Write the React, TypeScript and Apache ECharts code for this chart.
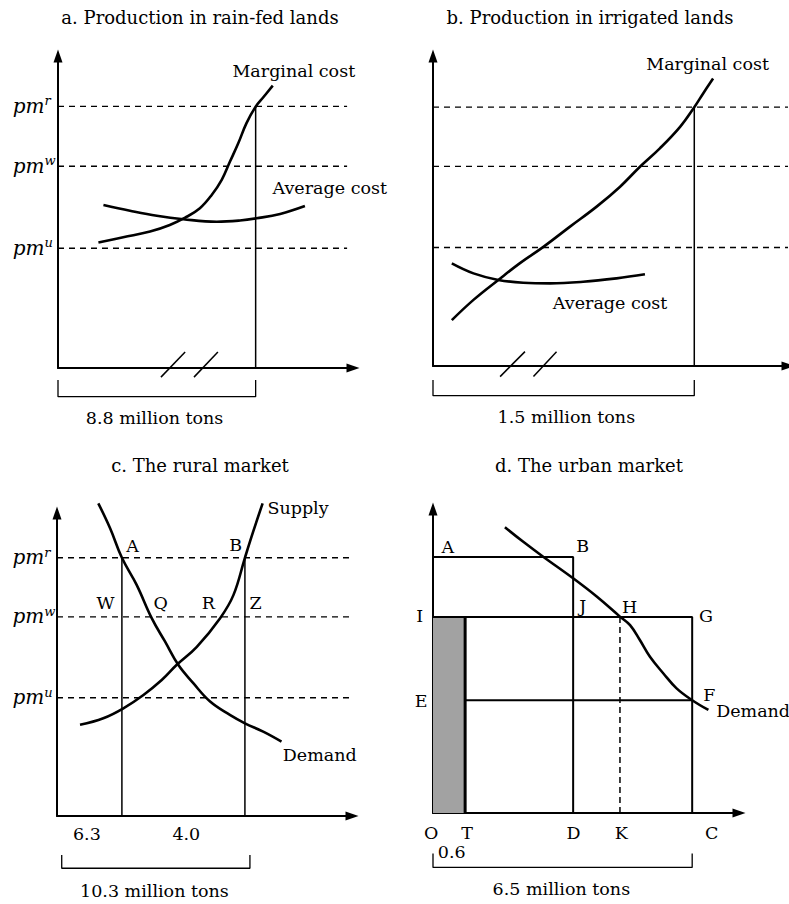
import React, { useEffect, useRef } from "react";
import * as echarts from "echarts";

const SERIF = "'DejaVu Serif', 'Liberation Serif', serif";
const INK = "#000";
const LABEL_SIZE = 17.5;

// ---------- shared price levels (panels a, b, c) ----------
const priceLevels = [83, 64, 38];
const priceSup = ["r", "w", "u"];

// ---------- panel a: production in rain-fed lands ----------
const aMarginalCost: [number, number][] = [
  [13.7, 39.8], [22.1, 41.5], [31.2, 43.3], [37.9, 45.4], [43.1, 47.7], [48.1, 50.7],
  [52.1, 54.9], [55.5, 59.7], [58.3, 65.5], [61.1, 71.3], [63.9, 77.7], [67.0, 82.9],
  [69.6, 85.9], [72.8, 89.6],
];
const aAverageCost: [number, number][] = [
  [15.4, 51.7], [24.4, 49.9], [33.5, 48.3], [42.5, 47.2], [53.8, 46.4], [61.7, 46.8],
  [67.3, 47.5], [75.3, 48.9], [83.7, 51.4],
];
const aQuantity = 67.0;
const aDashEnd = 98;

// ---------- panel b: production in irrigated lands ----------
const bMarginalCost: [number, number][] = [
  [5.3, 14.7], [11.4, 21.2], [18.4, 27.6], [24.5, 33.0], [31.1, 38.2], [38.6, 44.7],
  [46.1, 51.1], [52.7, 57.5], [58.3, 63.9], [63.9, 69.8], [69.6, 76.7], [73.6, 83.0],
  [76.1, 87.4], [78.9, 92.2],
];
const bAverageCost: [number, number][] = [
  [5.3, 32.9], [11.4, 29.7], [18.4, 27.6], [25.4, 26.7], [33.0, 26.5], [42.3, 27.0],
  [51.7, 28.1], [59.7, 29.4],
];
const bQuantity = 73.6;
const bDashEnd = 100;

// ---------- panel c: the rural market ----------
const cDemand: [number, number][] = [
  [14.0, 100.5], [18.0, 92.5], [22.0, 83.0], [27.0, 74.3], [32.1, 63.6], [36.6, 56.1],
  [41.1, 48.6], [46.2, 42.7], [51.9, 36.8], [58.6, 32.5], [63.7, 29.8], [69.9, 27.1],
  [76.1, 23.9],
];
const cSupply: [number, number][] = [
  [7.8, 29.3], [15.7, 31.4], [22.5, 34.6], [29.3, 38.9], [35.5, 43.7], [40.6, 48.6],
  [47.4, 54.4], [55.3, 63.6], [59.8, 71.0], [63.7, 83.0], [66.5, 91.4], [69.7, 100.5],
];
const cQuantities = [22.0, 63.7];
const cDashEnd = 101;
const cTickLabels = ["6.3", "4.0"];

// ---------- panel d: the urban market ----------
const dPrices = { AB: 84.2, IG: 64.5, EF: 37.1 };
const dQuantities = { T: 10.5, D: 45.8, K: 61.1, C: 84.7 };
const dDemand: [number, number][] = [
  [23.5, 94.0], [29.5, 89.2], [36.0, 84.3], [45.8, 77.2], [53.5, 71.2], [61.1, 64.6],
  [64.4, 61.8], [67.6, 56.9], [70.9, 51.4], [75.3, 45.9], [79.6, 41.0], [84.7, 37.1],
  [90.0, 33.9],
];

// ---------- layout ----------
const grids = [
  { left: 58, top: 56, width: 295, height: 312 },
  { left: 433, top: 56, width: 355, height: 310 },
  { left: 57, top: 513, width: 295, height: 303 },
  { left: 433, top: 509, width: 306, height: 304 },
];
const xMax = [100, 100, 100, 100];
const yMax = [99, 99.4, 97.4, 100];

type Txt = { text: string; x: number; y: number; align?: string; size?: number; rich?: any };

function line(idx: number, data: number[][], o: any = {}) {
  return {
    type: "line",
    xAxisIndex: idx,
    yAxisIndex: idx,
    data,
    symbol: "none",
    clip: false,
    silent: true,
    smooth: o.smooth ?? false,
    z: o.z ?? 2,
    lineStyle: { color: INK, width: o.width ?? 1.5, type: o.dash ?? "solid", cap: "butt" },
  };
}

function texts(idx: number, items: Txt[]) {
  return {
    type: "scatter",
    xAxisIndex: idx,
    yAxisIndex: idx,
    symbol: "circle",
    symbolSize: 1,
    itemStyle: { color: "rgba(0,0,0,0)", opacity: 1 },
    clip: false,
    silent: true,
    z: 6,
    data: items.map((it) => ({
      value: [it.x, it.y],
      label: {
        show: true,
        formatter: it.text,
        position: [0, 0],
        align: it.align ?? "center",
        verticalAlign: "middle",
        fontFamily: SERIF,
        fontSize: it.size ?? LABEL_SIZE,
        color: INK,
        opacity: 1,
        ...(it.rich ? { rich: it.rich } : {}),
      },
    })),
  };
}

const pmRich = {
  it: { fontFamily: SERIF, fontStyle: "italic", fontSize: 20, lineHeight: 23, color: INK },
  sup: { fontFamily: SERIF, fontStyle: "italic", fontSize: 13, lineHeight: 13, verticalAlign: "top", color: INK },
};

function priceLines(idx: number, end: number) {
  return priceLevels.map((p) => line(idx, [[0, p], [end, p]], { width: 1.4, dash: [6, 5] }));
}
function priceLabels(idx: number, x: number) {
  return texts(
    idx,
    priceLevels.map((p, i) => ({ text: `{it|pm}{sup|${priceSup[i]}}`, x, y: p, align: "left", rich: pmRich }))
  );
}
function bracket(idx: number, x0: number, x1: number, yb: number, yt: number) {
  return line(idx, [[x0, yt], [x0, yb], [x1, yb], [x1, yt]], { width: 1.3 });
}

export default function App() {
  const ref = useRef<HTMLDivElement>(null);
  useEffect(() => {
    if (!ref.current) return;
    const chart = echarts.init(ref.current, undefined, { renderer: "svg" });

    const axisCommon = {
      type: "value",
      axisTick: { show: false },
      axisLabel: { show: false },
      splitLine: { show: false },
    };
    const axisLine = {
      show: true,
      onZero: false,
      symbol: ["none", "triangle"],
      symbolSize: [9, 13],
      lineStyle: { color: INK, width: 2 },
    };

    const series: any[] = [];
    const curve = { smooth: 0.4, width: 2.6, z: 3 };

    // ---- panel a ----
    series.push(...priceLines(0, aDashEnd));
    series.push(line(0, [[aQuantity, 0], [aQuantity, priceLevels[0]]], { width: 1.5 }));
    series.push(line(0, aMarginalCost, curve));
    series.push(line(0, aAverageCost, curve));
    series.push(line(0, [[34.9, -2.9], [43.1, 5.1]], { width: 1.5 }));
    series.push(line(0, [[46.1, -2.9], [54.2, 5.1]], { width: 1.5 }));
    series.push(bracket(0, 0, aQuantity, -9.1, -3.8));
    series.push(priceLabels(0, -15.2));
    series.push(
      texts(0, [
        { text: "Marginal cost", x: 59.3, y: 94.0, align: "left" },
        { text: "Average cost", x: 72.9, y: 56.8, align: "left" },
        { text: "8.8 million tons", x: 32.9, y: -15.9 },
      ])
    );

    // ---- panel b ----
    series.push(...priceLines(1, bDashEnd));
    series.push(line(1, [[bQuantity, 0], [bQuantity, priceLevels[0]]], { width: 1.5 }));
    series.push(line(1, bMarginalCost, curve));
    series.push(line(1, bAverageCost, curve));
    series.push(line(1, [[18.9, -3.4], [25.9, 4.6]], { width: 1.5 }));
    series.push(line(1, [[28.3, -3.4], [34.8, 4.6]], { width: 1.5 }));
    series.push(bracket(1, 0, bQuantity, -9.5, -4.5));
    series.push(
      texts(1, [
        { text: "Marginal cost", x: 60.2, y: 96.7, align: "left" },
        { text: "Average cost", x: 33.9, y: 19.9, align: "left" },
        { text: "1.5 million tons", x: 37.7, y: -16.6 },
      ])
    );

    // ---- panel c ----
    series.push(...priceLines(2, cDashEnd));
    cQuantities.forEach((q) => series.push(line(2, [[q, 0], [q, priceLevels[0]]], { width: 1.5 })));
    series.push(line(2, cDemand, curve));
    series.push(line(2, cSupply, curve));
    series.push(bracket(2, 1.6, 65.4, -16.8, -12.5));
    series.push(priceLabels(2, -14.9));
    series.push(
      texts(2, [
        { text: "A", x: 25.8, y: 86.5 },
        { text: "B", x: 60.7, y: 86.8 },
        { text: "W", x: 16.6, y: 68.3 },
        { text: "Q", x: 35.3, y: 68.3 },
        { text: "R", x: 51.5, y: 68.3 },
        { text: "Z", x: 67.5, y: 68.3 },
        { text: "Supply", x: 71.5, y: 98.9, align: "left" },
        { text: "Demand", x: 76.7, y: 19.6, align: "left" },
        { text: cTickLabels[0], x: 10.3, y: -6.1 },
        { text: cTickLabels[1], x: 44.0, y: -6.1 },
        { text: "10.3 million tons", x: 33.2, y: -24.3 },
      ])
    );

    // ---- panel d ----
    series.push({
      type: "custom",
      xAxisIndex: 3,
      yAxisIndex: 3,
      silent: true,
      z: 1,
      encode: { x: [0, 2], y: [1, 3] },
      data: [[0, 0, dQuantities.T, dPrices.IG]],
      renderItem: (_p: any, api: any) => {
        const p0 = api.coord([api.value(0), api.value(1)]);
        const p1 = api.coord([api.value(2), api.value(3)]);
        return {
          type: "rect",
          shape: { x: p0[0], y: p1[1], width: p1[0] - p0[0], height: p0[1] - p1[1] },
          style: { fill: "#a2a2a2" },
        };
      },
    });
    series.push(line(3, [[0, dPrices.AB], [dQuantities.D, dPrices.AB], [dQuantities.D, 0]], { width: 2 }));
    series.push(line(3, [[0, dPrices.IG], [dQuantities.C, dPrices.IG], [dQuantities.C, 0]], { width: 2 }));
    series.push(line(3, [[dQuantities.T, dPrices.EF], [dQuantities.C, dPrices.EF]], { width: 2 }));
    series.push(line(3, [[dQuantities.T, 0], [dQuantities.T, dPrices.IG]], { width: 3 }));
    series.push(line(3, [[dQuantities.K, 0], [dQuantities.K, dPrices.IG]], { width: 1.5, dash: [6, 4] }));
    series.push(line(3, dDemand, curve));
    series.push(bracket(3, 0, dQuantities.C, -17.9, -13.3));
    series.push(
      texts(3, [
        { text: "A", x: 5.0, y: 87.3 },
        { text: "B", x: 49.1, y: 87.6 },
        { text: "I", x: -4.2, y: 64.5 },
        { text: "J", x: 49.1, y: 67.9 },
        { text: "H", x: 64.4, y: 67.6 },
        { text: "G", x: 89.4, y: 64.6 },
        { text: "E", x: -3.7, y: 36.6 },
        { text: "F", x: 90.5, y: 38.8 },
        { text: "Demand", x: 92.7, y: 33.3, align: "left" },
        { text: "O", x: -0.4, y: -6.7 },
        { text: "T", x: 11.3, y: -6.7 },
        { text: "D", x: 46.1, y: -6.7 },
        { text: "K", x: 61.7, y: -6.7 },
        { text: "C", x: 91.2, y: -6.7 },
        { text: "0.6", x: 6.3, y: -13.0 },
        { text: "6.5 million tons", x: 42.1, y: -25.3 },
      ])
    );

    const titles = [
      { text: "a. Production in rain-fed lands", x: 200, y: 17 },
      { text: "b. Production in irrigated lands", x: 590, y: 17 },
      { text: "c. The rural market", x: 200, y: 465 },
      { text: "d. The urban market", x: 589, y: 465 },
    ];

    chart.setOption({
      animation: false,
      backgroundColor: "#fff",
      grid: grids.map((g) => ({ ...g, containLabel: false })),
      xAxis: grids.map((_, i) => ({ ...axisCommon, gridIndex: i, min: 0, max: xMax[i], axisLine })),
      yAxis: grids.map((_, i) => ({ ...axisCommon, gridIndex: i, min: 0, max: yMax[i], axisLine })),
      graphic: titles.map((t) => ({
        type: "text",
        x: t.x,
        y: t.y,
        silent: true,
        style: {
          text: t.text,
          fill: INK,
          fontFamily: SERIF,
          fontSize: 18,
          textAlign: "center",
          textVerticalAlign: "middle",
        },
      })),
      series,
    });
    return () => chart.dispose();
  }, []);
  return (
    <div
      ref={ref}
      style={{ position: "fixed", left: 0, top: 0, width: 789, height: 904, background: "#fff" }}
    />
  );
}
